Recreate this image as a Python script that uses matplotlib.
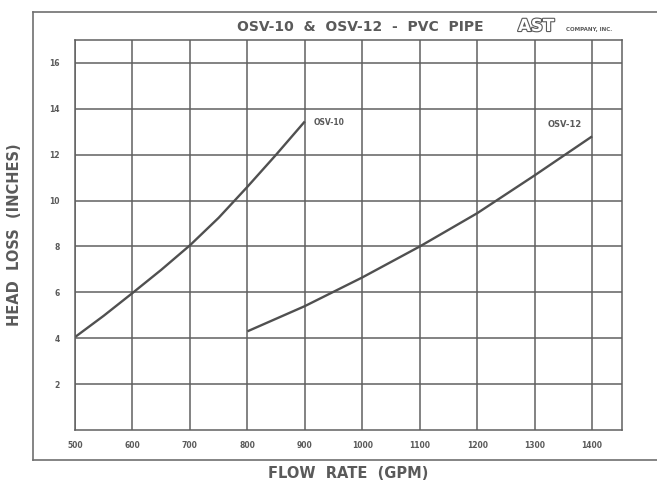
import matplotlib
matplotlib.use("Agg")
import matplotlib.pyplot as plt
import matplotlib.patheffects as pe
from matplotlib.lines import Line2D

# head loss
osv10_flow = [500, 550, 600, 650, 700, 750, 800, 850, 900]
osv10_head = [4.05, 4.98, 5.97, 6.98, 8.05, 9.25, 10.6, 12.0, 13.45]
osv12_flow = [800, 900, 1000, 1100, 1200, 1300, 1400]
osv12_head = [4.3, 5.4, 6.65, 8.0, 9.45, 11.1, 12.8]

x_ticks = [500, 600, 700, 800, 900, 1000, 1100, 1200, 1300, 1400]
y_ticks = [2, 4, 6, 8, 10, 12, 14, 16]

grey = "#5a5a5a"
line_grey = "#505050"

fig = plt.figure(figsize=(6.57, 4.83), dpi=100)
ax = fig.add_axes([75 / 657, 1 - 430 / 483, 547 / 657, 390 / 483])

ax.plot(osv10_flow, osv10_head, color=line_grey, lw=1.7, solid_capstyle="butt")
ax.plot(osv12_flow, osv12_head, color=line_grey, lw=1.7, solid_capstyle="butt")

ax.set_xlim(500, 1452)
ax.set_ylim(0, 17)
ax.set_xticks(x_ticks)
ax.set_yticks(y_ticks)
ax.grid(True, color="#606060", lw=1.1)
ax.set_axisbelow(True)
for s in ax.spines.values():
    s.set_color("#606060")
    s.set_linewidth(1.1)
ax.tick_params(length=0, labelsize=5.5, colors=grey)
ax.tick_params(axis="x", pad=8)
ax.tick_params(axis="y", pad=11)
for lab in ax.get_xticklabels() + ax.get_yticklabels():
    lab.set_fontweight("bold")

ax.text(915, 13.4, "OSV-10", fontsize=5.5, fontweight="bold", color=grey,
        va="center", ha="left")
ax.text(1383, 13.3, "OSV-12", fontsize=6, fontweight="bold", color=grey,
        va="center", ha="right")

# outer frame (right edge runs off the page)
x0, yt, yb = 33 / 657, 1 - 12 / 483, 1 - 460 / 483
for xs, ys in [([x0, 1.0], [yt, yt]), ([x0, 1.0], [yb, yb]), ([x0, x0], [yb, yt])]:
    fig.add_artist(Line2D(xs, ys, color="#707070", lw=1.2, transform=fig.transFigure))

fig.text(360 / 657, 1 - 27 / 483, "OSV-10  &  OSV-12  -  PVC  PIPE",
         fontsize=10, fontweight="bold", color=grey, ha="center", va="center")
logo = fig.text(518 / 657, 1 - 26 / 483, "AST", fontsize=12, fontweight="bold",
                color="white", ha="left", va="center")
logo.set_path_effects([pe.Stroke(linewidth=1.6, foreground=grey), pe.Normal()])
fig.text(566 / 657, 1 - 30 / 483, "COMPANY, INC.", fontsize=4, fontweight="bold",
         color=grey, ha="left", va="center")

fig.text(348 / 657, 1 - 474 / 483, "FLOW  RATE  (GPM)", fontsize=10.5,
         fontweight="bold", color=grey, ha="center", va="center")
fig.text(15 / 657, 1 - 235 / 483, "HEAD  LOSS  (INCHES)", fontsize=10.5,
         fontweight="bold", color=grey, ha="center", va="center", rotation=90)

fig.savefig("out.png", dpi=100)
